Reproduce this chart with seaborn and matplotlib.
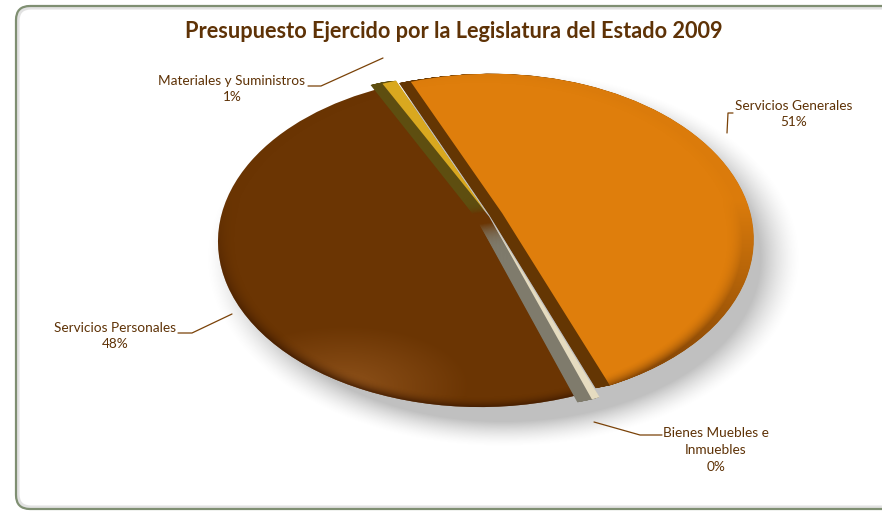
import numpy as np
import matplotlib
matplotlib.use("Agg")
import matplotlib.pyplot as plt
from matplotlib.patches import FancyBboxPatch
from matplotlib.transforms import Transform
import seaborn as sns

categories = ["Servicios Generales", "Bienes Muebles e\nInmuebles", "Servicios Personales", "Materiales y Suministros"]
values = [50.6, 0.45, 47.95, 1.0]
percent_labels = ["51%", "0%", "48%", "1%"]
colors = ["#DF7E0C", "#E6DCC0", "#6B3503", "#D9A81F"]
wall_colors = ["#643603", "#7F7B6C", "#6B3503", "#5E4E10"]
explode = [0.055, 0.035, 0.0, 0.03]
text_color = "#5E3206"

sns.set_theme(style="white")
sns.set_palette(colors)
plt.rcParams["font.family"] = ["Lato", "DejaVu Sans"]
W, H = 882, 511
CX, CY, RX, RY = 480, 241.5, 262, 165.5


class DiskProjection(Transform):
    """Perspective view of a flat disk: the circle stays an axis-aligned ellipse, its centre moves."""
    input_dims = 2
    output_dims = 2
    is_affine = False

    def __init__(self, apex):
        super().__init__()
        apex = np.asarray(apex, float)
        b = np.hypot(*apex)
        n = apex / b
        g = 1 / np.sqrt(1 - b ** 2)
        boost = np.eye(3)
        boost[:2, :2] += (g - 1) * np.outer(n, n)
        boost[:2, 2] = g * b * n
        boost[2, :2] = g * b * n
        boost[2, 2] = g
        screen = np.array([[RX, 0, CX], [0, -RY, CY], [0, 0, 1.0]])
        self.m = screen @ boost

    def transform_non_affine(self, values):
        p = np.c_[values, np.ones(len(values))] @ self.m.T
        return p[:, :2] / p[:, 2:]


fig = plt.figure(figsize=(W / 100, H / 100), dpi=100, facecolor="white")
ax = fig.add_axes([0, 0, 1, 1])
ax.axis("off")

# frame with a faint inner shadow
ax.add_patch(FancyBboxPatch((18, 8), 900, 499, boxstyle="round,pad=0,rounding_size=13",
                            fc="white", ec="#E2E2E2", lw=2.2, zorder=0))
ax.add_patch(FancyBboxPatch((16, 6), 900, 503, boxstyle="round,pad=0,rounding_size=14",
                            fc="none", ec="#7F8F72", lw=1.6, zorder=0.1))

# soft shadow below the pie
yy, xx = np.mgrid[0:H, 0:W]
shadow_r = np.hypot((xx - 503) / 265, (yy - 258) / 168)
shadow = np.zeros((H, W, 4))
shadow[..., :3] = 0.62
shadow[..., 3] = np.clip((1.12 - shadow_r) / 0.15, 0, 1) ** 1.5 * 0.65
ax.imshow(shadow, extent=(0, W, H, 0), zorder=0.5, interpolation="bilinear")

persp = DiskProjection((0.035, 0.15))

kw = dict(explode=explode, startangle=113, counterclock=False, radius=1.0)
no_edge = dict(linewidth=0, edgecolor="none")
# extruded side walls: copies of the pie stepped to the lower left
for t in np.linspace(1, 0.04, 25):
    walls, _ = ax.pie(values, colors=wall_colors, center=(-0.05 * t, -0.012 * t), wedgeprops=no_edge, **kw)
    for i, w in enumerate(walls):
        w.set_transform(persp + ax.transData)
        w.set_zorder(2.6 if i in (1, 3) else 1)
    walls[2].set_visible(False)
tops, _ = ax.pie(values, colors=colors, wedgeprops=no_edge, **kw)
for i, w in enumerate(tops):
    w.set_transform(persp + ax.transData)
    w.set_zorder({0: 2, 2: 2.5}.get(i, 2.7))

# rim shading and warm highlight, clipped to the slices
rim_r = np.hypot((xx - CX) / RX, (yy - CY) / RY)
rim = np.zeros((H, W, 4))
rim[..., :3] = [0.22, 0.09, 0.0]
low = np.clip((yy - CY) / RY + 0.3, 0.04, 1)
for i, strength in ((0, 0.5), (2, 0.8)):
    shade = rim.copy()
    shade[..., 3] = np.clip((rim_r - 0.93) / 0.07, 0, 1) ** 2 * strength * low
    im = ax.imshow(shade, extent=(0, W, H, 0), zorder=2.55, interpolation="bilinear")
    im.set_clip_path(tops[i])
glow = np.zeros((H, W, 4))
glow[..., :3] = [0.78, 0.5, 0.25]
glow[..., 3] = np.clip(1 - np.hypot((xx - 345) / 125, (yy - 385) / 60), 0, 1) * 0.38
im = ax.imshow(glow, extent=(0, W, H, 0), zorder=2.52, interpolation="bilinear")
im.set_clip_path(tops[2])

ax.set_aspect("auto")
ax.set_xlim(0, W)
ax.set_ylim(H, 0)

ax.text(453.5, 31, "Presupuesto Ejercido por la Legislatura del Estado 2009", ha="center", va="center",
        fontsize=15.65, fontweight="bold", color=text_color, zorder=6)
lab_kw = dict(ha="center", va="center", fontsize=9.8, color=text_color, linespacing=1.38, zorder=6)
ax.text(794, 114, f"{categories[0]}\n{percent_labels[0]}", **lab_kw)
ax.text(716, 450, f"{categories[1]}\n{percent_labels[1]}", **{**lab_kw, "linespacing": 1.5})
ax.text(115, 336, f"{categories[2]}\n{percent_labels[2]}", **lab_kw)
ax.text(232, 89, f"{categories[3]}\n{percent_labels[3]}", **lab_kw)
for xs, ys in [([733, 728, 727], [113, 113, 133]), ([662, 640, 594], [435, 435, 422]),
               ([178, 192, 232], [333, 333, 314]), ([308, 321, 383], [86, 86, 58])]:
    ax.plot(xs, ys, color="#7A4208", lw=0.9, zorder=6)

fig.savefig("out.png", dpi=100)
